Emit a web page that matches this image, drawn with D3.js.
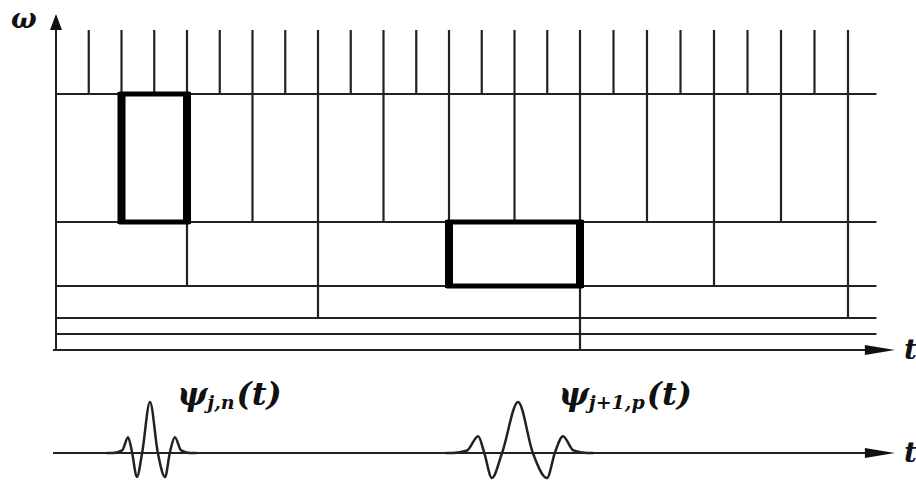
<!DOCTYPE html>
<html>
<head>
<meta charset="utf-8">
<script src="https://cdn.jsdelivr.net/npm/d3@7"></script>
<style>
  body { margin: 0; background: #fff; }
  .math { font-family: "DejaVu Serif", serif; font-weight: bold; font-style: italic; fill: #111; }
</style>
</head>
<body>
<div id="tiling"></div>
<script>
// time-frequency bands (omega ranges) and the tile width used in each
var bandLow  = [16, 8, 4, 2, 1, 0];
var bandHigh = [20, 16, 8, 4, 2, 1];
var bandStep = [1, 2, 4, 8, 16, 16];
var bandEdges = [1, 2, 4, 8, 16];

var tileEnd = 24;      // last time column
var gridEnd = 24.85;   // horizontal lines run a bit past it
var axisEnd = 25.4;    // arrow tip of t axis
var omegaTop = 21;     // arrow tip of omega axis

// highlighted tiles
var boxT0 = [2, 12], boxT1 = [4, 16];
var boxW0 = [8, 4],  boxW1 = [16, 8];

// wavelets (time, relative amplitude)
var wave1T = [1.55, 1.74, 2.02, 2.2, 2.32, 2.47, 2.63, 2.87, 3.11, 3.33, 3.48, 3.63, 3.82, 4.09, 4.3];
var wave1A = [0, 0, 0.05, 0.31, 0.02, -0.47, 0, 1, 0, -0.47, 0.02, 0.31, 0.05, 0, 0];
var wave2T = [11.9, 12.12, 12.55, 12.89, 13.07, 13.31, 13.62, 14.11, 14.56, 14.99, 15.24, 15.48, 15.8, 16.21, 16.4];
var wave2A = [0, 0, 0.05, 0.33, 0.02, -0.49, 0, 1, 0, -0.49, 0.02, 0.33, 0.05, 0, 0];

var labelT = [3.7, 15.35];
var labelSub = ["j,n", "j+1,p"];

var width = 916, height = 486;

var svg = d3.select("#tiling").append("svg")
    .attr("width", width)
    .attr("height", height);

var x = d3.scaleLinear()
    .domain([0, 16, 24])
    .range([56, 580, 848]);

var y = d3.scaleLinear()
    .domain([0, 20])
    .range([350, 30]);

var amp = d3.scaleLinear()
    .domain([-1, 1])
    .range([504, 402]);

var ink = "#222";

// horizontal band boundaries
svg.selectAll(".hline")
    .data(bandEdges)
    .enter()
    .append("line")
    .attr("x1", x(0))
    .attr("x2", x(gridEnd))
    .attr("y1", function (d) { return y(d); })
    .attr("y2", function (d) { return y(d); })
    .attr("stroke", ink)
    .attr("stroke-width", 2);

// vertical tile boundaries, band by band
var vlines = [];
bandStep.forEach(function (step, i) {
    for (var t = step; t <= tileEnd; t += step) {
        vlines.push({ t: t, lo: bandLow[i], hi: bandHigh[i] });
    }
});

svg.selectAll(".vline")
    .data(vlines)
    .enter()
    .append("line")
    .attr("x1", function (d) { return x(d.t); })
    .attr("x2", function (d) { return x(d.t); })
    .attr("y1", function (d) { return y(d.lo); })
    .attr("y2", function (d) { return y(d.hi); })
    .attr("stroke", ink)
    .attr("stroke-width", 2.2);

// axes
svg.append("line")
    .attr("x1", x(0)).attr("x2", x(0))
    .attr("y1", y(0)).attr("y2", y(20))
    .attr("stroke", ink).attr("stroke-width", 2);

svg.append("path")
    .attr("d", "M" + (x(0) - 6) + "," + y(20) + "L" + x(0) + "," + y(omegaTop) + "L" + (x(0) + 6) + "," + y(20) + "Z")
    .attr("fill", "#111");

function tArrow(yy) {
    svg.append("line")
        .attr("x1", x(0) - 3).attr("x2", x(axisEnd) - 20)
        .attr("y1", yy).attr("y2", yy)
        .attr("stroke", ink).attr("stroke-width", 2);
    svg.append("path")
        .attr("d", "M" + (x(axisEnd) - 30) + "," + (yy - 5) + "L" + x(axisEnd) + "," + yy + "L" + (x(axisEnd) - 30) + "," + (yy + 5) + "Z")
        .attr("fill", "#111");
    svg.append("text")
        .attr("class", "math")
        .attr("x", x(axisEnd) + 9)
        .attr("y", yy + 9)
        .attr("font-size", 28)
        .text("t");
}
tArrow(y(0));
tArrow(amp(0));

svg.append("text")
    .attr("class", "math")
    .attr("x", 11)
    .attr("y", 28)
    .attr("font-size", 27)
    .text("ω");

// highlighted tiles: thicker on the vertical sides
var boxes = boxT0.map(function (d, i) {
    return { t0: boxT0[i], t1: boxT1[i], w0: boxW0[i], w1: boxW1[i] };
});

var gBox = svg.selectAll(".box")
    .data(boxes)
    .enter()
    .append("g");

gBox.append("rect")
    .attr("x", function (d) { return x(d.t0); })
    .attr("y", function (d) { return y(d.w1); })
    .attr("width", function (d) { return x(d.t1) - x(d.t0); })
    .attr("height", function (d) { return y(d.w0) - y(d.w1); })
    .attr("fill", "none")
    .attr("stroke", "#000")
    .attr("stroke-width", 5);

[["t0"], ["t1"]].forEach(function (k) {
    gBox.append("line")
        .attr("x1", function (d) { return x(d[k[0]]); })
        .attr("x2", function (d) { return x(d[k[0]]); })
        .attr("y1", function (d) { return y(d.w1) - 2; })
        .attr("y2", function (d) { return y(d.w0) + 2; })
        .attr("stroke", "#000")
        .attr("stroke-width", 8);
});

// wavelets
var waveLine = d3.line()
    .x(function (d) { return x(d[0]); })
    .y(function (d) { return amp(d[1]); })
    .curve(d3.curveMonotoneX);

[[wave1T, wave1A], [wave2T, wave2A]].forEach(function (w) {
    svg.append("path")
        .datum(w[0].map(function (t, i) { return [t, w[1][i]]; }))
        .attr("d", waveLine)
        .attr("fill", "none")
        .attr("stroke", "#222")
        .attr("stroke-width", 2.5);
});

// labels
labelT.forEach(function (t, i) {
    var txt = svg.append("text")
        .attr("class", "math")
        .attr("x", x(t))
        .attr("y", 405)
        .attr("font-size", 32);
    txt.append("tspan").text("ψ");
    txt.append("tspan").attr("font-size", 19).attr("dy", 4).text(labelSub[i]);
    txt.append("tspan").attr("dy", -4).attr("dx", 2).text("(t)");
});
</script>
</body>
</html>
